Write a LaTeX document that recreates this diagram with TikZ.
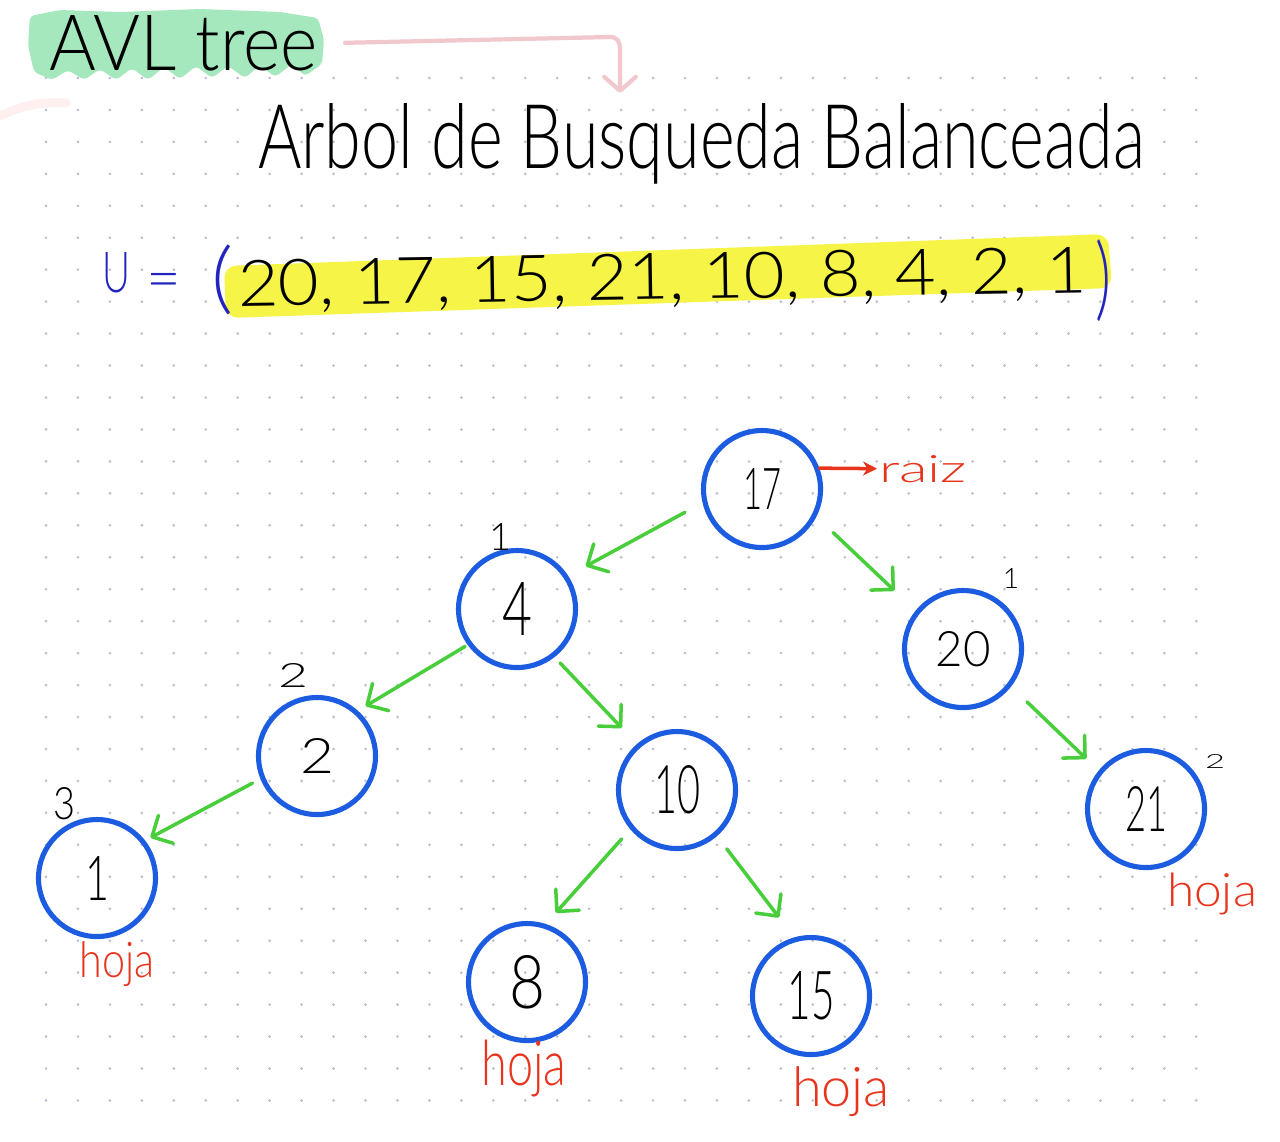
\documentclass[tikz,border=0pt]{standalone}
\usepackage{fontspec}
\setmainfont{Lato Light}
\usepackage{graphicx}
\usetikzlibrary{arrows.meta}
\newdimen\pxu \pxu=0.01cm
\newcommand\fitwh[3]{\resizebox{#1\pxu}{#2\pxu}{#3}}
\newcommand\fittot[3]{\resizebox*{#1\pxu}{#2\pxu}{#3}}
\newcommand\fith[2]{\resizebox{!}{#1\pxu}{#2}}
\definecolor{nodeblue}{RGB}{28,92,224}
\definecolor{arrowgreen}{RGB}{72,206,58}
\definecolor{labelred}{RGB}{232,52,28}
\definecolor{penblue}{RGB}{35,35,190}
\definecolor{hlyellow}{RGB}{246,244,70}
\definecolor{hlgreen}{RGB}{165,232,190}
\definecolor{pinkpen}{RGB}{240,200,206}
\definecolor{pinkfaint}{RGB}{253,240,238}
\definecolor{dotgray}{RGB}{188,190,208}
\begin{document}
\begin{tikzpicture}[x=0.01cm, y=-0.01cm,
  txt/.style={inner sep=0pt, outer sep=0pt, anchor=base west},
  lbl/.style={inner sep=0pt, outer sep=0pt},
  tnode/.style={circle, draw=nodeblue, line width=1.45pt, minimum size=117\pxu, inner sep=0pt},
  edge/.style={draw=arrowgreen, line width=1pt, line cap=round,
    -{Straight Barb[length=4.5pt, width=9pt, round]}},
  redlbl/.style={lbl, text=labelred},
]
\useasboundingbox (0,0) rectangle (1280,1141);
\fill[white] (0,0) rectangle (1280,1141);
% dot grid
\foreach \i in {0,...,36}{\foreach \j in {0,...,32}{
  \fill[dotgray] (46+31.95*\i, 78+31.95*\j) circle[radius=0.42pt];}}
% highlights
\fill[hlgreen, rounded corners=4\pxu] (30,16) -- (60,10) -- (120,12) -- (200,9) -- (280,12) -- (318,18)
  -- (324,40) -- (322,64) -- (305,76) -- (292,64) -- (275,77) -- (260,65) -- (245,78) -- (228,66)
  -- (212,78) -- (196,66) -- (180,79) -- (164,67) -- (148,80) -- (132,68) -- (116,80) -- (100,69)
  -- (84,80) -- (68,70) -- (52,80) -- (34,72) -- (28,45) -- cycle;
\fill[hlyellow, rounded corners=12\pxu] (224,266) -- (1108,234) -- (1112,288) -- (226,318) -- cycle;
\draw[pinkfaint, line width=2.5pt, line cap=round] (0,116) .. controls (20,106) and (42,101) .. (66,103);
% titles
\node[txt] (avl) at (50,70) {\fitwh{268}{55}{AVL tree}};
\node[txt] (arbol) at (258,168) {\fitwh{887}{65}{Arbol de Busqueda Balanceada}};
\coordinate (pkend) at (620,93);
\draw[pinkpen, line width=1.2pt, line cap=round, -{Straight Barb[length=4pt, width=9pt, round]}]
  ([xshift=27\pxu]avl.east) -- (610,37) .. controls (617,37) and (620,41) .. (620,50) -- (pkend);
% set
\node[txt, text=penblue] (uset) at (102,292) {\fitwh{28}{40}{U}};
\node[lbl, text=penblue] (eq) at (164,286) {\fontsize{60\pxu}{60\pxu}\selectfont =};
\node[lbl, text=penblue] (lp) at (222,280) {\fittot{22}{70}{(}};
\node[txt, rotate=0.9] (vals) at (238,306) {\fitwh{850}{46}{20, 17, 15, 21, 10, 8, 4, 2, 1}};
\node[lbl, text=penblue] (rp) at (1103,281) {\fittot{16}{82}{)}};
% tree
\node[tnode] (n17) at (762,489) {\fitwh{38}{41}{17}};
\node[tnode] (n4) at (517,609) {\fitwh{30}{53}{4}};
\node[tnode] (n20) at (963,649) {\fitwh{55}{35}{20}};
\node[tnode] (n2) at (317,756) {\fitwh{34}{35}{2}};
\node[tnode] (n10) at (677,790) {\fitwh{46}{48}{10}};
\node[tnode] (n21) at (1146,809) {\fitwh{42}{45}{21}};
\node[tnode] (n1) at (97,878) {\fitwh{24}{44}{1}};
\node[tnode] (n8) at (527,982) {\fitwh{36}{53}{8}};
\node[tnode] (n15) at (811,996) {\fitwh{47}{48}{15}};
% edges
\draw[edge, shorten <=20\pxu, shorten >=20\pxu] (n17.193) -- (n4.33);
\draw[edge, shorten <=3\pxu, shorten >=9\pxu] (n4.216) -- (n2.48);
\draw[edge, shorten <=9\pxu, shorten >=6\pxu] (n2.202) -- (n1.38);
\draw[edge, shorten <=8\pxu, shorten >=22\pxu] (n4.308) -- (n10.131);
\draw[edge, shorten <=23\pxu, shorten >=29\pxu] (n17.333) -- (n20.141);
\draw[edge, shorten <=22\pxu, shorten >=17\pxu] (n20.322) -- (n21.141);
\draw[edge, shorten <=13\pxu, shorten >=15\pxu] (n10.220) -- (n8.72);
\draw[edge, shorten <=16\pxu, shorten >=25\pxu] (n10.311) -- (n15.106);
% small numbers
\node[lbl] (b4) at (501,537) {\fith{27}{1}};
\node[lbl] (b2) at (293,675) {\fitwh{30}{24}{2}};
\node[lbl] (b1) at (64,804) {\fitwh{22}{32}{3}};
\node[lbl] (b20) at (1011,578) {\fith{20}{1}};
\node[lbl] (b21) at (1215,761) {\fitwh{20}{14}{2}};
% red labels
\node[txt, text=labelred] (raiz) at (879,482) {\fitwh{88}{27}{raiz}};
\draw[labelred, line width=1pt, line cap=round, -{Stealth[length=4pt, width=4pt]}, shorten >=2\pxu] (n17.20) -- (raiz.west);
\node[redlbl] (h1) at (117,964) {\fittot{75}{45}{hoja}};
\node[redlbl] (h8) at (524,1068) {\fittot{85}{57}{hoja}};
\node[redlbl] (h15) at (841,1092) {\fittot{98}{50}{hoja}};
\node[redlbl] (h21) at (1212,894) {\fittot{90}{42}{hoja}};
\end{tikzpicture}
\end{document}
